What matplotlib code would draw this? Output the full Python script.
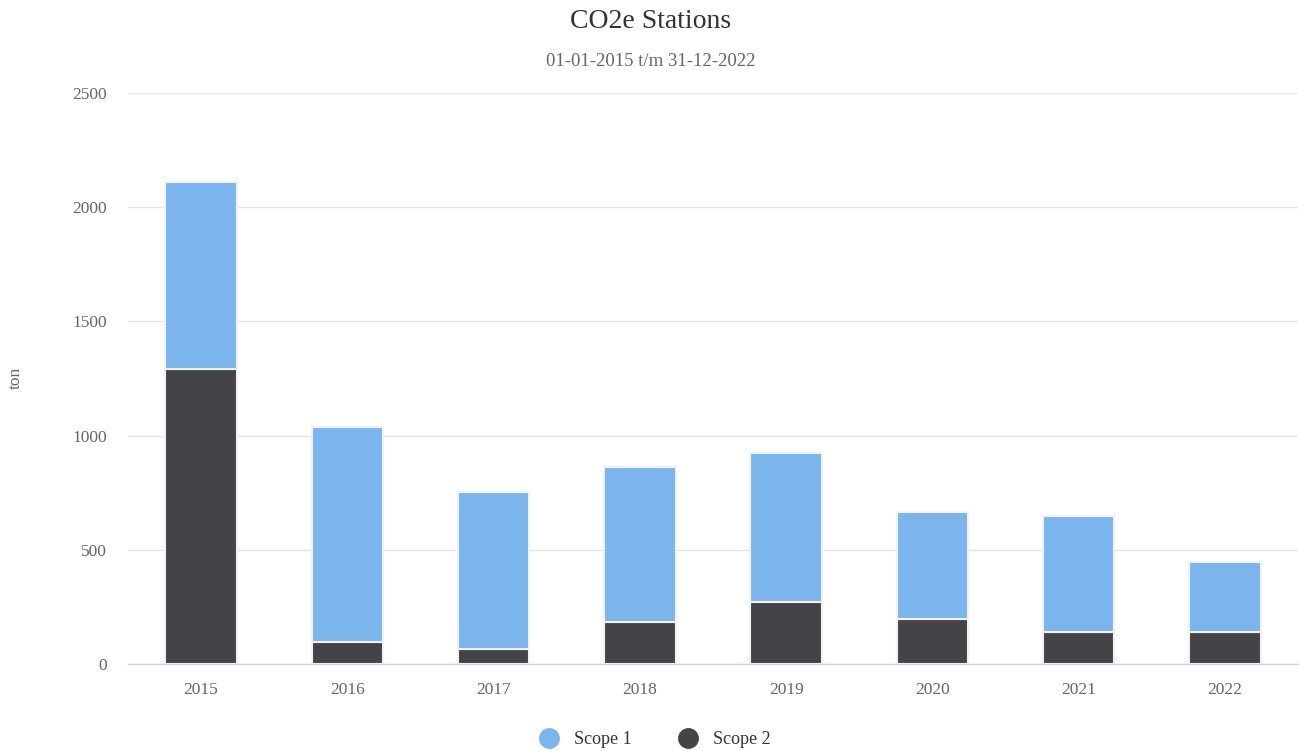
import numpy as np
import matplotlib.pyplot as plt
from matplotlib.lines import Line2D

plt.rcParams['font.family'] = ['Liberation Serif', 'DejaVu Serif']

years = ["2015", "2016", "2017", "2018", "2019", "2020", "2021", "2022"]
scope1 = [820, 941, 685, 676, 649, 470, 507, 307]
scope2 = [1292, 95, 67, 185, 273, 197, 141, 141]

c_scope1 = "#7cb5ec"
c_scope2 = "#434348"

fig = plt.figure(figsize=(13.01, 7.51), dpi=100)
ax = fig.add_axes([128 / 1301, 87 / 751, 1170 / 1301, 571 / 751])

x = np.arange(len(years))
w = 0.49
ax.bar(x, scope2, width=w, color=c_scope2, edgecolor="#f2f2f2", linewidth=1.5, zorder=3)
ax.bar(x, scope1, width=w, bottom=scope2, color=c_scope1, edgecolor="#f2f2f2",
       linewidth=1.5, zorder=3)

ax.set_xlim(-0.5, len(years) - 0.5)
ax.set_ylim(0, 2500)
ax.set_yticks(np.arange(0, 2501, 500))
ax.set_xticks(x)
ax.set_xticklabels(years)
ax.grid(axis="y", color="#e6e6e6", linewidth=1, zorder=0)
ax.set_axisbelow(True)

for s in ["top", "right", "left"]:
    ax.spines[s].set_visible(False)
ax.spines["bottom"].set_color("#ccd6eb")
ax.spines["bottom"].set_linewidth(1)

ax.tick_params(axis="both", length=0, labelsize=12.5, labelcolor="#666666")
ax.tick_params(axis="x", pad=13)
ax.tick_params(axis="y", pad=15)

fig.text(16 / 1301, 1 - 378 / 751, "ton", rotation=90, ha="center", va="center",
         fontsize=12.5, color="#666666")
fig.text(0.5, 1 - 21 / 751, "CO2e Stations", ha="center", va="center",
         fontsize=20, color="#333333")
fig.text(0.5, 1 - 61 / 751, "01-01-2015 t/m 31-12-2022", ha="center", va="center",
         fontsize=13.5, color="#666666")

handles = [
    Line2D([], [], marker="o", linestyle="none", markersize=14, color=c_scope1),
    Line2D([], [], marker="o", linestyle="none", markersize=14, color=c_scope2),
]
fig.legend(handles, ["Scope 1", "Scope 2"], loc="center", ncol=2,
           bbox_to_anchor=(0.5, 1 - 740 / 751), frameon=False, fontsize=13,
           handletextpad=0.4, columnspacing=2.1, labelcolor="#333333")

fig.savefig("out.png", dpi=100, facecolor="white")
